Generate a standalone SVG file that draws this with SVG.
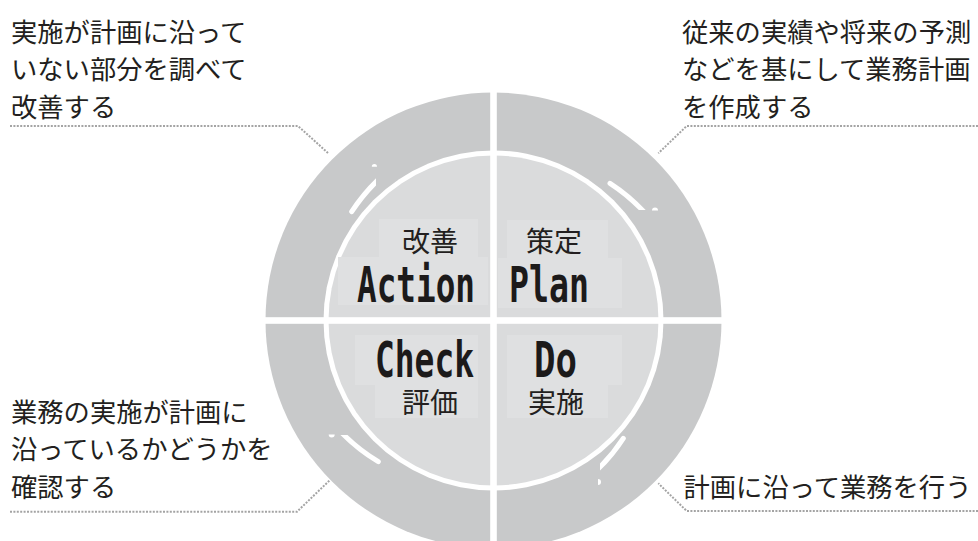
<svg xmlns="http://www.w3.org/2000/svg" width="978" height="541" viewBox="0 0 978 541">
  <style>
    .desc { font-family: "Noto Sans CJK JP", "Noto Sans", sans-serif; font-size: 26.3px; fill: #231f20; }
    .lbl { font-family: "Noto Sans CJK JP", "Noto Sans", sans-serif; font-size: 28px; fill: #231f20; }
    .jp { text-anchor: middle; }
    .en { font-family: "DejaVu Sans Mono", "Liberation Mono", monospace; font-weight: bold; font-size: 50px; fill: #1c1a1a; text-anchor: start; }
    .lbg { fill: #dfe0e1; }
    .leader { fill: none; stroke: #a4a4a4; stroke-width: 2; stroke-dasharray: 2 1.4; }
    .arc { fill: none; stroke: #ffffff; stroke-width: 5; stroke-linecap: round; }
    .dot { fill: #ffffff; }
  </style>
  <defs>
    <clipPath id="cut-tr" clipPathUnits="userSpaceOnUse"><rect x="500" y="100" width="250" height="110"/></clipPath>
    <clipPath id="dot-tr" clipPathUnits="userSpaceOnUse"><rect x="500" y="100" width="250" height="110.5"/></clipPath>
    <clipPath id="cut-tl" clipPathUnits="userSpaceOnUse"><rect x="250" y="100" width="126" height="200"/></clipPath>
    <clipPath id="dot-tl" clipPathUnits="userSpaceOnUse"><rect x="250" y="100" width="240" height="66.7"/></clipPath>
    <clipPath id="cut-br" clipPathUnits="userSpaceOnUse"><rect x="600" y="330" width="150" height="220"/></clipPath>
    <clipPath id="dot-br" clipPathUnits="userSpaceOnUse"><rect x="598" y="330" width="150" height="220"/></clipPath>
    <clipPath id="cut-bl" clipPathUnits="userSpaceOnUse"><rect x="250" y="435" width="240" height="110"/></clipPath>
    <clipPath id="dot-bl" clipPathUnits="userSpaceOnUse"><rect x="250" y="434.5" width="240" height="110"/></clipPath>
  </defs>
  <rect width="978" height="541" fill="#ffffff"/>

  <g id="cycle">
    <circle cx="493.5" cy="320.5" r="228" fill="#c8c9ca"/>
    <circle cx="493.5" cy="320.5" r="170" fill="#ffffff"/>
    <circle cx="493.5" cy="320.5" r="165" fill="#dadbdc"/>
  </g>

  <g id="label-bgs">
    <rect class="lbg" x="379" y="219" width="99" height="38"/>
    <rect class="lbg" x="338" y="257" width="150" height="48"/>
    <rect class="lbg" x="507" y="220" width="101" height="38"/>
    <rect class="lbg" x="498" y="258" width="124" height="50"/>
    <rect class="lbg" x="355" y="335" width="123" height="50"/>
    <rect class="lbg" x="375" y="385" width="103" height="33"/>
    <rect class="lbg" x="507" y="335" width="115" height="50"/>
    <rect class="lbg" x="507" y="385" width="101" height="33"/>
  </g>

  <g id="dividers" fill="#ffffff">
    <rect x="490.2" y="90" width="6.6" height="460"/>
    <rect x="263" y="317.2" width="462" height="6.6"/>
  </g>

  <g id="cycle-arrows">
    <path class="arc" clip-path="url(#cut-tr)" d="M610,183.3 A182,182 0 0 1 646,214"/>
    <circle class="dot" clip-path="url(#dot-tr)" cx="655" cy="210.5" r="3"/>
    <path class="arc" clip-path="url(#cut-br)" d="M623.3,438.3 A180,180 0 0 1 596,471"/>
    <circle class="dot" clip-path="url(#dot-br)" cx="598" cy="482" r="3"/>
    <path class="arc" clip-path="url(#cut-bl)" d="M378.3,461.7 A185,185 0 0 1 340,431"/>
    <circle class="dot" clip-path="url(#dot-bl)" cx="331.7" cy="434.5" r="3"/>
    <path class="arc" clip-path="url(#cut-tl)" d="M351.7,211.7 A182,182 0 0 1 380,178"/>
    <circle class="dot" clip-path="url(#dot-tl)" cx="374.4" cy="166.7" r="2.6"/>
  </g>

  <g id="connectors">
    <polyline class="leader" points="10,126 298,126 328,153"/>
    <polyline class="leader" points="978,126 686.7,126 658.3,153.3"/>
    <polyline class="leader" points="10,511.7 297,511.7 330,480"/>
    <polyline class="leader" points="978,511 686.7,511 658.3,483.3"/>
  </g>

  <g id="node-action">
    <text class="lbl"><tspan class="jp" x="430" y="252">改善</tspan><tspan class="en" x="357" y="302" textLength="118" lengthAdjust="spacingAndGlyphs">Action</tspan></text>
  </g>
  <g id="node-plan">
    <text class="lbl"><tspan class="jp" x="554" y="252">策定</tspan><tspan class="en" x="509" y="302" textLength="80" lengthAdjust="spacingAndGlyphs">Plan</tspan></text>
  </g>
  <g id="node-check">
    <text class="lbl"><tspan class="en" x="375" y="376.5" textLength="99" lengthAdjust="spacingAndGlyphs">Check</tspan><tspan class="jp" x="430" y="412.5">評価</tspan></text>
  </g>
  <g id="node-do">
    <text class="lbl"><tspan class="en" x="534" y="376.5" textLength="43" lengthAdjust="spacingAndGlyphs">Do</tspan><tspan class="jp" x="556" y="412.5">実施</tspan></text>
  </g>

  <g id="desc-action">
    <text class="desc" x="11" y="41.5">実施が計画に沿って</text>
    <text class="desc" x="11" y="79">いない部分を調べて</text>
    <text class="desc" x="11" y="116.5">改善する</text>
  </g>
  <g id="desc-plan">
    <text class="desc" x="682" y="41.5">従来の実績や将来の予測</text>
    <text class="desc" x="682" y="79">などを基にして業務計画</text>
    <text class="desc" x="682" y="116.5">を作成する</text>
  </g>
  <g id="desc-check">
    <text class="desc" x="11" y="421.5">業務の実施が計画に</text>
    <text class="desc" x="11" y="459">沿っているかどうかを</text>
    <text class="desc" x="11" y="496.5">確認する</text>
  </g>
  <g id="desc-do">
    <text class="desc" x="683.5" y="496.5">計画に沿って業務を行う</text>
  </g>
</svg>
